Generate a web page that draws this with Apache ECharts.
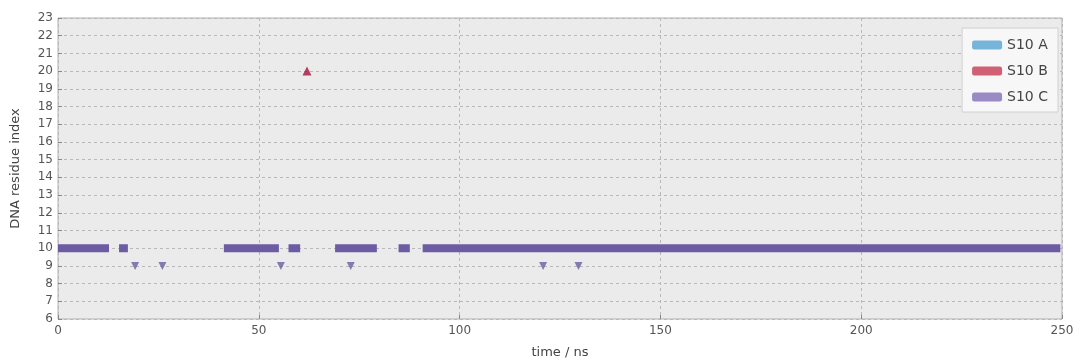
<!DOCTYPE html>
<html>
<head>
<meta charset="utf-8">
<script src="https://cdn.jsdelivr.net/npm/echarts@6/dist/echarts.min.js"></script>
<style>
  html, body { margin: 0; padding: 0; background: #fff; }
  #main { width: 1080px; height: 364px; }
</style>
</head>
<body>
<div id="main"></div>
<script>
// legend entries
const seriesNames = ["S10 A", "S10 B", "S10 C"];
const legendColors = ["#55a4d2", "#c63b54", "#9a8ac4"];

// S10 C: time intervals (ns) where residue 10 is contacted
const s10cBand = [
  [0, 12.7], [15.2, 17.4], [41.3, 55], [57.4, 60.3],
  [69, 79.4], [84.8, 87.6], [90.8, 249.6]
];
const s10cBandRes = 10;
// S10 C: isolated contacts [time, residue]
const s10cPoints = [[19.2, 9], [26, 9], [55.5, 9], [72.9, 9], [120.8, 9], [129.6, 9]];
// S10 B: isolated contacts [time, residue]
const s10bPoints = [[62, 20]];

const xTicks = [0, 50, 100, 150, 200, 250];

const bandData = [];
s10cBand.forEach(function (seg) {
  bandData.push([seg[0], s10cBandRes]);
  bandData.push([seg[1], s10cBandRes]);
  bandData.push("-");
});

const chart = echarts.init(document.getElementById("main"));
const axisText = { color: "#555", fontSize: 12, fontFamily: "DejaVu Sans" };

const option = {
  animation: false,
  grid: {
    left: 58, right: 18, top: 18, bottom: 44,
    show: true,
    backgroundColor: "#ebebeb",
    borderColor: "#b0b0b0",
    borderWidth: 1
  },
  legend: {
    orient: "vertical",
    right: 22,
    top: 28,
    itemWidth: 30,
    itemHeight: 9,
    itemGap: 12,
    padding: [10, 10, 8, 10],
    backgroundColor: "#f7f7f7",
    borderColor: "#d0d0d0",
    borderWidth: 1,
    textStyle: { color: "#444", fontSize: 14, fontFamily: "DejaVu Sans" },
    data: seriesNames.map(function (n, i) {
      return { name: n, icon: "roundRect", itemStyle: { color: legendColors[i] } };
    })
  },
  xAxis: {
    type: "value",
    min: xTicks[0],
    max: xTicks[xTicks.length - 1],
    interval: 50,
    name: "time / ns",
    nameLocation: "middle",
    nameGap: 27,
    nameTextStyle: { color: "#444", fontSize: 13, fontFamily: "DejaVu Sans" },
    axisLine: { show: false },
    axisTick: { show: true, inside: true, length: 4, lineStyle: { color: "#888" } },
    axisLabel: Object.assign({ margin: 6 }, axisText),
    splitLine: { show: true, lineStyle: { color: "#b8b8b8", type: [3, 3] } }
  },
  yAxis: {
    type: "value",
    min: 6,
    max: 23,
    interval: 1,
    name: "DNA residue index",
    nameLocation: "middle",
    nameGap: 36,
    nameTextStyle: { color: "#444", fontSize: 13, fontFamily: "DejaVu Sans" },
    axisLine: { show: false },
    axisTick: { show: true, inside: true, length: 4, lineStyle: { color: "#888" } },
    axisLabel: Object.assign({ margin: 5 }, axisText),
    splitLine: { show: true, lineStyle: { color: "#b8b8b8", type: [3, 3] } }
  },
  series: [
    {
      name: "S10 A",
      type: "scatter",
      data: [],
      itemStyle: { color: legendColors[0] }
    },
    {
      name: "S10 B",
      type: "scatter",
      symbol: "triangle",
      symbolSize: 9,
      data: s10bPoints,
      itemStyle: { color: "#a8123e" }
    },
    {
      name: "S10 C",
      type: "line",
      data: bandData,
      showSymbol: false,
      connectNulls: false,
      lineStyle: { color: "#6c5ca3", width: 8, cap: "butt" },
      itemStyle: { color: "#6c5ca3" }
    },
    {
      name: "S10 C",
      type: "scatter",
      symbol: "triangle",
      symbolRotate: 180,
      symbolSize: 8,
      data: s10cPoints,
      itemStyle: { color: "#6c5ca3" }
    }
  ]
};

chart.setOption(option);
window.addEventListener("resize", function () { chart.resize(); });
</script>
</body>
</html>
